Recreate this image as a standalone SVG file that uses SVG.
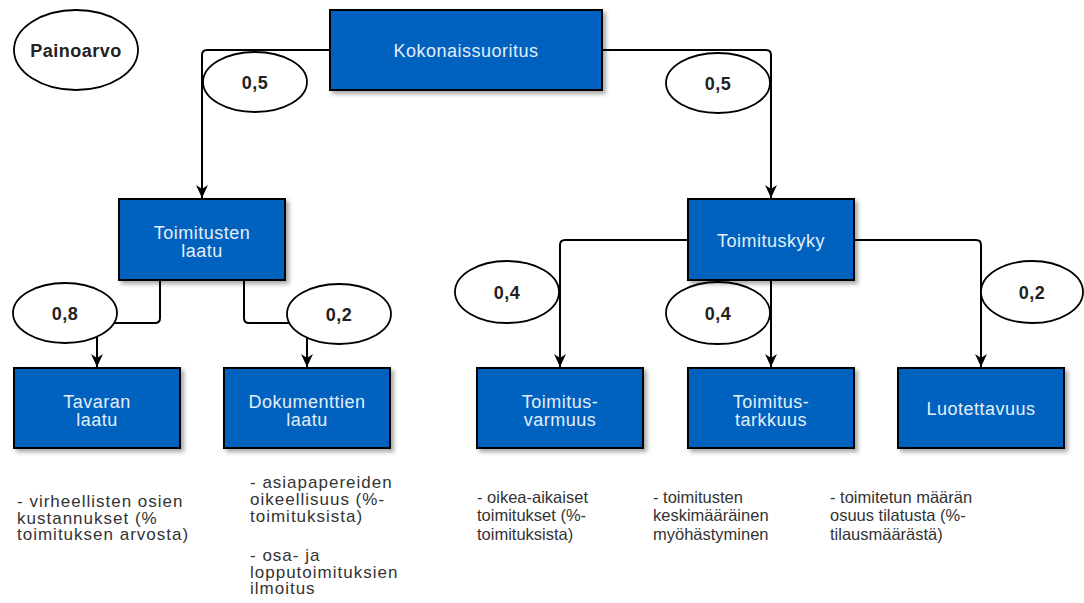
<svg xmlns="http://www.w3.org/2000/svg" width="1084" height="603" viewBox="0 0 1084 603">
  <style>
    .box { fill: #0562BE; stroke: #000; stroke-width: 2; filter: url(#shadow); }
    .boxtxt { font-family: "Liberation Sans", Arial, sans-serif; font-size: 18px; fill: #E3EEF9; text-anchor: middle; letter-spacing: 0.5px; }
    .oval { fill: #fff; stroke: #000; stroke-width: 1.8; }
    .ovaltxt { font-family: "Liberation Sans", Arial, sans-serif; font-size: 18px; font-weight: bold; fill: #222; text-anchor: middle; letter-spacing: 0.5px; }
    .edge { fill: none; stroke: #000; stroke-width: 2; marker-end: url(#arrow); }
    .note { font-family: "Liberation Sans", Arial, sans-serif; font-size: 16.5px; fill: #333; }
    .note.wide { font-size: 17px; letter-spacing: 1px; }
  </style>
  <defs>
    <filter id="shadow" x="-10%" y="-10%" width="130%" height="140%">
      <feDropShadow dx="3" dy="3" stdDeviation="2" flood-color="#000" flood-opacity="0.35"/>
    </filter>
    <marker id="arrow" viewBox="-14 -7 15 14" refX="0" refY="0" markerWidth="15" markerHeight="14" markerUnits="userSpaceOnUse" orient="auto">
      <path d="M0,0 L-13,-6 L-9,0 L-13,6 Z" fill="#000"/>
    </marker>
  </defs>

  <!-- connectors -->
  <g id="connectors">
    <path class="edge" d="M330,50 H207 Q202,50 202,55 V198"/>
    <path class="edge" d="M602,50 H766 Q771,50 771,55 V198"/>
    <path class="edge" d="M160,280 V318 Q160,323 155,323 H102 Q97,323 97,328 V367"/>
    <path class="edge" d="M244,280 V318 Q244,323 249,323 H302 Q307,323 307,328 V367"/>
    <path class="edge" d="M688,240 H565 Q560,240 560,245 V367"/>
    <path class="edge" d="M771,280 V367"/>
    <path class="edge" d="M854,240 H976 Q981,240 981,245 V367"/>
  </g>

  <!-- legend -->
  <g id="legend">
    <ellipse class="oval" cx="76" cy="50" rx="62" ry="40"/>
    <text class="ovaltxt" x="76" y="57">Painoarvo</text>
  </g>

  <!-- weights -->
  <g id="w-kok-laatu">
    <ellipse class="oval" cx="255" cy="82" rx="52" ry="30"/>
    <text class="ovaltxt" x="255" y="89">0,5</text>
  </g>
  <g id="w-kok-kyky">
    <ellipse class="oval" cx="718" cy="83" rx="52" ry="30"/>
    <text class="ovaltxt" x="718" y="90">0,5</text>
  </g>
  <g id="w-tavara">
    <ellipse class="oval" cx="65" cy="313" rx="52" ry="30"/>
    <text class="ovaltxt" x="65" y="320">0,8</text>
  </g>
  <g id="w-dokumentit">
    <ellipse class="oval" cx="339" cy="314" rx="52" ry="30"/>
    <text class="ovaltxt" x="339" y="321">0,2</text>
  </g>
  <g id="w-varmuus">
    <ellipse class="oval" cx="507" cy="292" rx="52" ry="31"/>
    <text class="ovaltxt" x="507" y="299">0,4</text>
  </g>
  <g id="w-tarkkuus">
    <ellipse class="oval" cx="718" cy="313" rx="52" ry="31"/>
    <text class="ovaltxt" x="718" y="320">0,4</text>
  </g>
  <g id="w-luotettavuus">
    <ellipse class="oval" cx="1032" cy="292" rx="51" ry="31"/>
    <text class="ovaltxt" x="1032" y="299">0,2</text>
  </g>

  <!-- nodes -->
  <g id="kokonaissuoritus">
    <rect class="box" x="330" y="10" width="272" height="80"/>
    <text class="boxtxt" x="466" y="57">Kokonaissuoritus</text>
  </g>
  <g id="toimitusten-laatu">
    <rect class="box" x="119" y="199" width="166" height="81"/>
    <text class="boxtxt" x="202" y="239">Toimitusten</text>
    <text class="boxtxt" x="202" y="257">laatu</text>
  </g>
  <g id="toimituskyky">
    <rect class="box" x="688" y="199" width="166" height="81"/>
    <text class="boxtxt" x="771" y="247">Toimituskyky</text>
  </g>
  <g id="tavaran-laatu">
    <rect class="box" x="14" y="368" width="166" height="80"/>
    <text class="boxtxt" x="97" y="408">Tavaran</text>
    <text class="boxtxt" x="97" y="426">laatu</text>
  </g>
  <g id="dokumenttien-laatu">
    <rect class="box" x="224" y="368" width="166" height="80"/>
    <text class="boxtxt" x="307" y="408">Dokumenttien</text>
    <text class="boxtxt" x="307" y="426">laatu</text>
  </g>
  <g id="toimitusvarmuus">
    <rect class="box" x="477" y="368" width="166" height="80"/>
    <text class="boxtxt" x="560" y="408">Toimitus-</text>
    <text class="boxtxt" x="560" y="426">varmuus</text>
  </g>
  <g id="toimitustarkkuus">
    <rect class="box" x="688" y="368" width="166" height="80"/>
    <text class="boxtxt" x="771" y="408">Toimitus-</text>
    <text class="boxtxt" x="771" y="426">tarkkuus</text>
  </g>
  <g id="luotettavuus">
    <rect class="box" x="898" y="368" width="166" height="80"/>
    <text class="boxtxt" x="981" y="415">Luotettavuus</text>
  </g>

  <!-- measures -->
  <g id="mittarit">
    <text class="note wide" x="17" y="507">
      <tspan x="17">- virheellisten osien</tspan>
      <tspan x="17" dy="16.7">kustannukset (%</tspan>
      <tspan x="17" dy="16.7">toimituksen arvosta)</tspan>
    </text>
    <text class="note wide" x="250" y="488">
      <tspan x="250">- asiapapereiden</tspan>
      <tspan x="250" dy="17.2">oikeellisuus (%-</tspan>
      <tspan x="250" dy="16.7">toimituksista)</tspan>
      <tspan x="250" dy="39">- osa- ja</tspan>
      <tspan x="250" dy="16.7">lopputoimituksien</tspan>
      <tspan x="250" dy="16.7">ilmoitus</tspan>
    </text>
    <text class="note" x="477" y="503">
      <tspan x="477">- oikea-aikaiset</tspan>
      <tspan x="477" dy="18.3">toimitukset (%-</tspan>
      <tspan x="477" dy="18.3">toimituksista)</tspan>
    </text>
    <text class="note" x="653" y="503">
      <tspan x="653">- toimitusten</tspan>
      <tspan x="653" dy="18.3">keskimääräinen</tspan>
      <tspan x="653" dy="18.3">myöhästyminen</tspan>
    </text>
    <text class="note" x="830" y="503">
      <tspan x="830">- toimitetun määrän</tspan>
      <tspan x="830" dy="18.3">osuus tilatusta (%-</tspan>
      <tspan x="830" dy="18.3">tilausmäärästä)</tspan>
    </text>
  </g>
</svg>
